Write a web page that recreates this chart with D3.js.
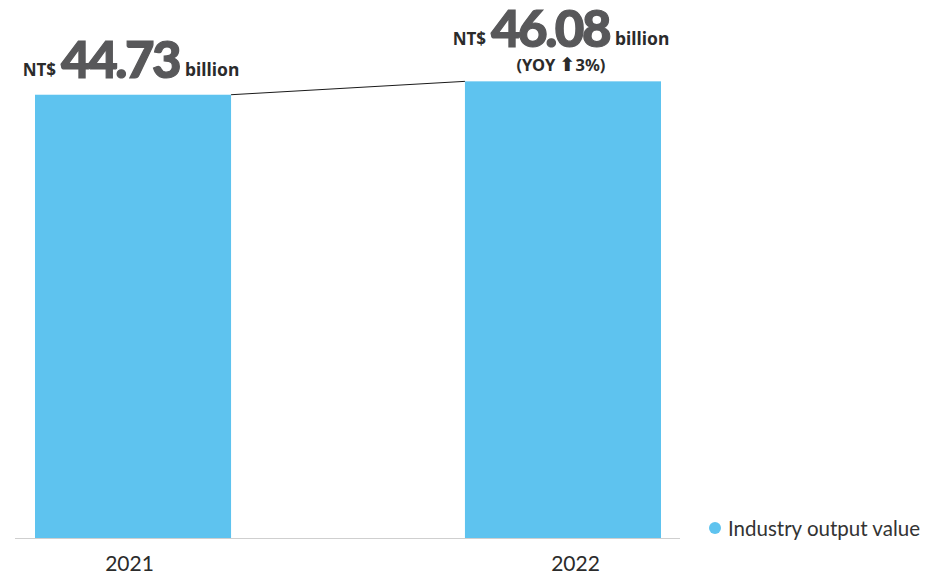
<!DOCTYPE html>
<html>
<head>
<meta charset="utf-8">
<script src="https://cdn.jsdelivr.net/npm/d3@7"></script>
<style>
  html, body { margin: 0; padding: 0; background: #fff; }
  svg { display: block; }
</style>
</head>
<body>
<svg id="chart" width="946" height="575"></svg>
<script>
// Industry output value, NT$ billion
const years = ["2021", "2022"];
const values = [44.73, 46.08];
const yoyLabels = [null, "3%"];
const seriesName = "Industry output value";

const barColor = "#5ec3ef";
const numColor = "#58585a";
const unitColor = "#2b2b2b";

const svg = d3.select("#chart");
const baseY = 538;

const x = d3.scaleBand().domain(years).range([35, 661]).paddingInner(0.544).paddingOuter(0);
const xLabel = d3.scalePoint().domain(years).range([129, 575]);
const y = d3.scaleLinear().domain([0, 50]).range([baseY, baseY - 50 * 9.91]);

// bars
svg.selectAll("rect.bar").data(values).join("rect")
  .attr("class", "bar")
  .attr("x", (d, i) => x(years[i]))
  .attr("y", d => y(d))
  .attr("width", x.bandwidth())
  .attr("height", d => y(0) - y(d))
  .attr("fill", barColor);

// connector between bar tops
svg.append("line")
  .attr("x1", x(years[0]) + x.bandwidth()).attr("y1", y(values[0]))
  .attr("x2", x(years[1])).attr("y2", y(values[1]))
  .attr("stroke", "#1a1a1a").attr("stroke-width", 1);

// baseline axis
const xAxis = d3.axisBottom(xLabel).tickSize(0).tickPadding(18);
const axisG = svg.append("g").attr("transform", `translate(0,${baseY})`).call(xAxis);
axisG.select(".domain").remove();
axisG.selectAll("text")
  .attr("font-family", "Lato, 'Open Sans', sans-serif")
  .attr("font-size", 21)
  .attr("fill", "#2b2b2b");
svg.append("line")
  .attr("x1", 15).attr("x2", 680)
  .attr("y1", baseY + 0.5).attr("y2", baseY + 0.5)
  .attr("stroke", "#cfcfcf").attr("stroke-width", 1);

// value labels
values.forEach((v, i) => {
  const cx = x(years[i]) + x.bandwidth() / 2 - 2;
  const hasYoy = yoyLabels[i] !== null;
  const numBase = hasYoy ? y(v) - 34.5 : y(v) - 17;
  const t = svg.append("text")
    .attr("x", cx).attr("y", numBase)
    .attr("text-anchor", "middle");
  t.append("tspan")
    .attr("font-family", "'Noto Sans', sans-serif").attr("font-weight", 700)
    .attr("font-size", 17).attr("fill", unitColor).attr("dy", -1.5)
    .text("NT$");
  t.append("tspan")
    .attr("font-family", "Lato, sans-serif").attr("font-weight", 900)
    .attr("font-size", 51).attr("fill", numColor)
    .attr("stroke", numColor).attr("stroke-width", 1.2)
    .attr("letter-spacing", -2.5)
    .attr("dx", 5).attr("dy", 1.5)
    .text(d3.format(".2f")(v));
  t.append("tspan")
    .attr("font-family", "'Noto Sans', sans-serif").attr("font-weight", 700)
    .attr("font-size", 17.5).attr("fill", unitColor).attr("dx", 6).attr("dy", -1.5)
    .text("billion");
  if (hasYoy) {
    const yt = svg.append("text")
      .attr("x", cx).attr("y", y(v) - 10.5)
      .attr("text-anchor", "middle")
      .attr("font-family", "'Noto Sans', sans-serif").attr("font-weight", 700)
      .attr("font-size", 16.5).attr("fill", unitColor);
    yt.append("tspan").text("(YOY ");
    yt.append("tspan").attr("font-family", "'DejaVu Sans', sans-serif").attr("font-size", 19).text("⬆");
    yt.append("tspan").text(yoyLabels[i] + ")");
  }
});

// legend
const lg = svg.append("g").attr("transform", "translate(715,528)");
lg.append("circle").attr("r", 6).attr("fill", barColor);
lg.append("text")
  .attr("x", 13).attr("y", 7.5)
  .attr("font-family", "Lato, 'Open Sans', sans-serif")
  .attr("font-size", 20.5).attr("fill", "#333")
  .text(seriesName);
</script>
</body>
</html>
